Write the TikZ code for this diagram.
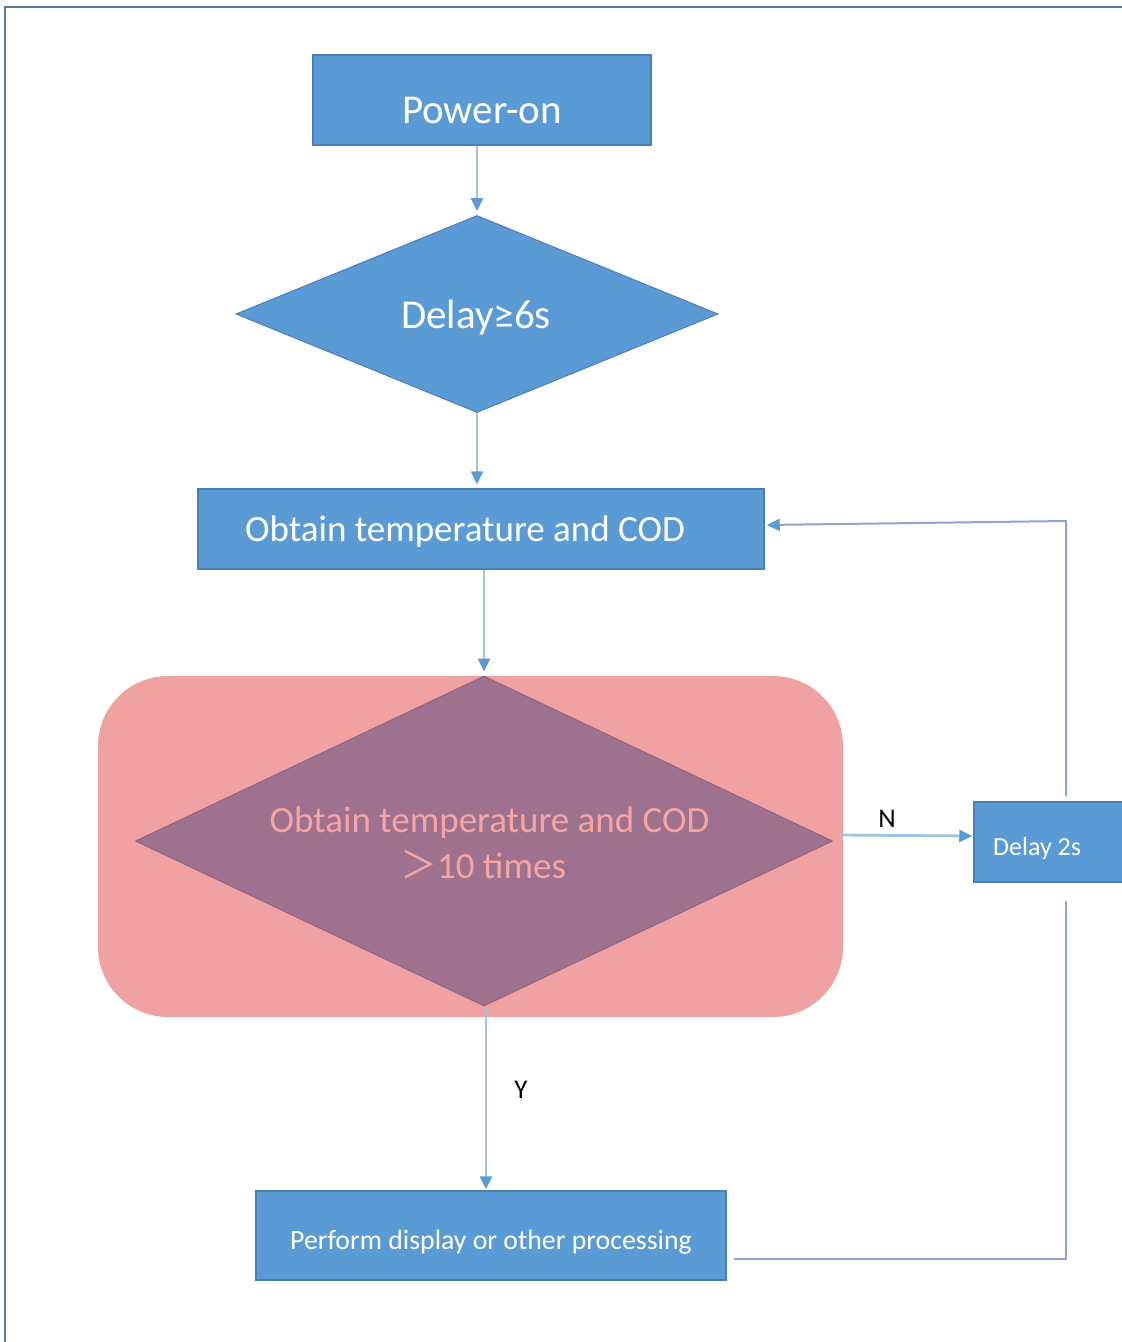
\documentclass[tikz,border=0pt]{standalone}
\usepackage{fontspec}
\setmainfont{Carlito}
\newfontfamily\cjkfont{Noto Sans CJK SC}
\usetikzlibrary{shapes.geometric,arrows.meta}
\definecolor{boxblue}{HTML}{5B9BD5}
\definecolor{boxedge}{HTML}{4A7EBB}
\definecolor{linkblue}{HTML}{9DC3E6}
\definecolor{tipblue}{HTML}{5B9BD5}
\definecolor{loopcol}{HTML}{8EA6CE}
\definecolor{pinkbg}{HTML}{F0A2A2}
\definecolor{purp}{HTML}{9E728E}
\definecolor{purpedge}{HTML}{8E6484}
\definecolor{pinktext}{HTML}{F4A6A2}
\definecolor{framecol}{HTML}{4F7BAF}
\begin{document}
\begin{tikzpicture}[x=1pt,y=-1pt,
  bluebox/.style={rectangle,fill=boxblue,draw=boxedge,line width=1.5pt,inner sep=0pt},
  bluediam/.style={diamond,fill=boxblue,draw=boxedge,line width=1pt,inner sep=0pt},
  wtext/.style={text=white,inner sep=0pt,anchor=base},
  ptext/.style={text=pinktext,inner sep=0pt,anchor=base,font=\fontsize{37}{44}\selectfont},
  arr/.style={draw=linkblue,line width=2.8pt,-{Triangle[width=12pt,length=13pt,color=tipblue]},shorten >=4pt},
  loopline/.style={draw=loopcol,line width=2pt},
  lbl/.style={font=\fontsize{27}{32}\selectfont,text=black,inner sep=0pt,anchor=base}]
\useasboundingbox (0,0) rectangle (1122,1342);
% frame
\draw[framecol,line width=2pt] (5,1342) -- (5,7) -- (1130,7);
% shapes
\node[bluebox,minimum width=338pt,minimum height=90pt] (pow) at (482,100) {};
\node[bluediam,minimum width=482pt,minimum height=197pt,shape aspect=2.45] (d6) at (477,314) {};
\node[bluebox,minimum width=566pt,minimum height=80pt] (obt) at (481,529) {};
\node[rectangle,rounded corners=70pt,fill=pinkbg,minimum width=745pt,minimum height=341pt,inner sep=0pt] (bg) at (470.5,846.5) {};
\node[diamond,fill=purp,draw=purpedge,line width=1pt,inner sep=0pt,minimum width=697pt,minimum height=330pt,shape aspect=2.1] (d10) at (484,841) {};
\node[bluebox,minimum width=166pt,minimum height=80pt] (d2) at (1057,842) {};
\node[bluebox,minimum width=470pt,minimum height=89pt] (perf) at (491,1235.5) {};
% texts
\node[wtext,font=\fontsize{41}{46}\selectfont] (powt) at (482,123) {Power-on};
\node[wtext,font=\fontsize{41}{46}\selectfont] (d6t) at (476,328) {Delay≥6s};
\node[wtext,font=\fontsize{37}{42}\selectfont] (obtt) at (465,541) {Obtain temperature and COD};
\node[ptext] (d10ta) at (489.5,832) {Obtain temperature and COD};
\node[ptext] (d10tb) at (483,878) {{\cjkfont ＞}10 times};
\node[wtext,anchor=base west,font=\fontsize{26}{30}\selectfont] (d2t) at (993,855) {Delay 2s};
\node[wtext,font=\fontsize{27.8}{32}\selectfont] (perft) at (491,1249) {Perform display or other processing};
% labels
\node[lbl] (nl) at (887,827) {N};
\node[lbl] (yl) at (521,1098) {Y};
% coordinates for loop
\coordinate (lp1) at (1066,521);
\coordinate (lp2) at (1066,1259);
% connectors
\draw[arr] (d6.north |- pow.south) -- (d6.north);
\draw[arr] (d6.south) -- (d6.south |- obt.north);
\draw[arr] (d10.north |- obt.south) -- (d10.north);
\draw[arr,shorten >=1pt] ([xshift=6pt,yshift=6pt]d10.east) -- ([yshift=6pt]d2.west);
\draw[arr,shorten >=1pt] ([xshift=2pt]d10.south) -- ([xshift=2pt]d10.south |- perf.north);
\draw[loopline,-{Triangle[width=12pt,length=13pt,color=tipblue]},shorten <=5pt,shorten >=2pt] (lp1 |- d2.north) -- (lp1) -- ([yshift=-4pt]obt.east |- lp1);
\draw[loopline,shorten <=18pt,shorten >=7pt] (lp1 |- d2.south) -- (lp2) -- (perf.east |- lp2);
\end{tikzpicture}
\end{document}
